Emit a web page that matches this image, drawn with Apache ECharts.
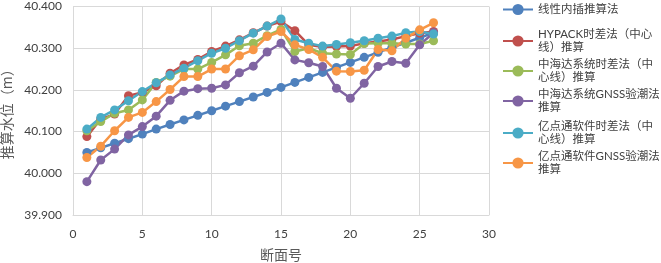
<!DOCTYPE html>
<html>
<head>
<meta charset="utf-8">
<script src="https://cdn.jsdelivr.net/npm/echarts@6/dist/echarts.min.js"></script>
<style>
  html, body { margin: 0; padding: 0; background: #fff; }
  #chart { width: 661px; height: 263px; }
</style>
</head>
<body>
<div id="chart"></div>
<script>
// 断面号
const sections = [1, 2, 3, 4, 5, 6, 7, 8, 9, 10, 11, 12, 13, 14, 15, 16, 17, 18, 19, 20, 21, 22, 23, 24, 25, 26]

// 各方法推算水位 (m)
const linearValues = [40.050, 40.061, 40.072, 40.083, 40.094, 40.106, 40.117, 40.128, 40.139, 40.150, 40.161, 40.172, 40.183, 40.194, 40.206, 40.218, 40.230, 40.242, 40.254, 40.266, 40.278, 40.290, 40.302, 40.313, 40.325, 40.337]
const hypackValues = [40.088, 40.130, 40.142, 40.186, 40.194, 40.210, 40.240, 40.260, 40.273, 40.292, 40.305, 40.320, 40.337, 40.353, 40.364, 40.342, 40.308, 40.303, 40.304, 40.305, 40.312, 40.316, 40.321, 40.329, 40.336, 40.340]
const zhdTimeValues = [40.102, 40.124, 40.144, 40.152, 40.176, 40.218, 40.233, 40.250, 40.250, 40.266, 40.284, 40.306, 40.312, 40.330, 40.345, 40.292, 40.300, 40.288, 40.286, 40.285, 40.311, 40.312, 40.312, 40.310, 40.310, 40.318]
const zhdGnssValues = [39.980, 40.032, 40.058, 40.092, 40.112, 40.137, 40.175, 40.197, 40.203, 40.204, 40.212, 40.241, 40.257, 40.291, 40.312, 40.272, 40.265, 40.256, 40.204, 40.180, 40.216, 40.256, 40.268, 40.264, 40.308, 40.337]
const ydtTimeValues = [40.106, 40.134, 40.152, 40.174, 40.196, 40.217, 40.236, 40.252, 40.270, 40.288, 40.300, 40.318, 40.336, 40.353, 40.370, 40.321, 40.312, 40.305, 40.309, 40.313, 40.318, 40.324, 40.329, 40.337, 40.340, 40.334]
const ydtGnssValues = [40.038, 40.065, 40.102, 40.134, 40.146, 40.172, 40.201, 40.232, 40.232, 40.250, 40.250, 40.282, 40.296, 40.328, 40.340, 40.308, 40.297, 40.278, 40.245, 40.244, 40.247, 40.297, 40.294, 40.324, 40.344, 40.361]

// 图例名称 (含换行)
const seriesNames = [
  "线性内插推算法",
  "HYPACK时差法（中心\n线）推算",
  "中海达系统时差法（中\n心线）推算",
  "中海达系统GNSS验潮法\n推算",
  "亿点通软件时差法（中\n心线）推算",
  "亿点通软件GNSS验潮法\n推算",
]
const seriesValues = [linearValues, hypackValues, zhdTimeValues, zhdGnssValues, ydtTimeValues, ydtGnssValues]
const seriesColors = ["#4F81BD", "#C0504D", "#9BBB59", "#8064A2", "#4BACC6", "#F79646"]

// 图例每项符号中心的纵向位置
const legendCenters = [10, 41, 71, 101, 133, 163]

const chart = echarts.init(document.getElementById("chart"), null, { renderer: "canvas" })

const textColor = "#404040"
const numFont = "Lato, 'Noto Sans CJK SC', sans-serif"
const cjkFont = "'Noto Sans CJK SC', sans-serif"
const legendFont = "'Liberation Sans Narrow', Lato, 'Noto Sans CJK SC', sans-serif"

// 每个图例单独放置, 让折行文字的第一行对齐符号
const legends = seriesNames.map((name, i) => {
  const wrapped = name.indexOf("\n") >= 0
  return {
    orient: "vertical",
    left: 502,
    top: wrapped ? legendCenters[i] - 19.5 : legendCenters[i] - 7,
    padding: 0,
    itemWidth: 30,
    itemHeight: 14,
    data: [name],
    textStyle: {
      color: textColor,
      fontSize: 11.5,
      fontFamily: legendFont,
      lineHeight: 13,
      padding: wrapped ? [13, 0, 0, 0] : 0,
    },
  }
})

const series = seriesNames.map((name, i) => ({
  name: name,
  type: "line",
  data: sections.map((s, j) => [s, seriesValues[i][j]]),
  symbol: "circle",
  symbolSize: 9,
  color: seriesColors[i],
  lineStyle: { width: 2.5, color: seriesColors[i] },
  itemStyle: { color: seriesColors[i] },
  animation: false,
}))

const option = {
  backgroundColor: "#fff",
  animation: false,
  grid: {
    left: 73,
    right: 172,
    top: 6.5,
    bottom: 48,
    outerBoundsMode: "none",
  },
  legend: legends,
  xAxis: {
    type: "value",
    min: 0,
    max: 30,
    interval: 5,
    name: "断面号",
    nameLocation: "middle",
    nameGap: 33,
    nameTextStyle: { color: "#595959", fontSize: 14, fontFamily: cjkFont },
    axisLine: { show: true, lineStyle: { color: "#d9d9d9", width: 1 } },
    axisTick: { show: false },
    axisLabel: { color: textColor, fontSize: 12, fontFamily: numFont, margin: 13 },
    splitLine: { show: true, lineStyle: { color: "#d9d9d9", width: 1 } },
  },
  yAxis: {
    type: "value",
    min: 39.9,
    max: 40.4,
    interval: 0.1,
    name: "推算水位（m）",
    nameLocation: "middle",
    nameGap: 55,
    nameRotate: 90,
    nameTextStyle: { color: "#595959", fontSize: 14, fontFamily: cjkFont },
    axisLine: { show: true, lineStyle: { color: "#d9d9d9", width: 1 } },
    axisTick: { show: false },
    axisLabel: {
      color: textColor,
      fontSize: 12,
      fontFamily: numFont,
      margin: 11,
      formatter: (v) => v.toFixed(3),
    },
    splitLine: { show: true, lineStyle: { color: "#d9d9d9", width: 1 } },
  },
  series: series,
}

chart.setOption(option)
</script>
</body>
</html>
